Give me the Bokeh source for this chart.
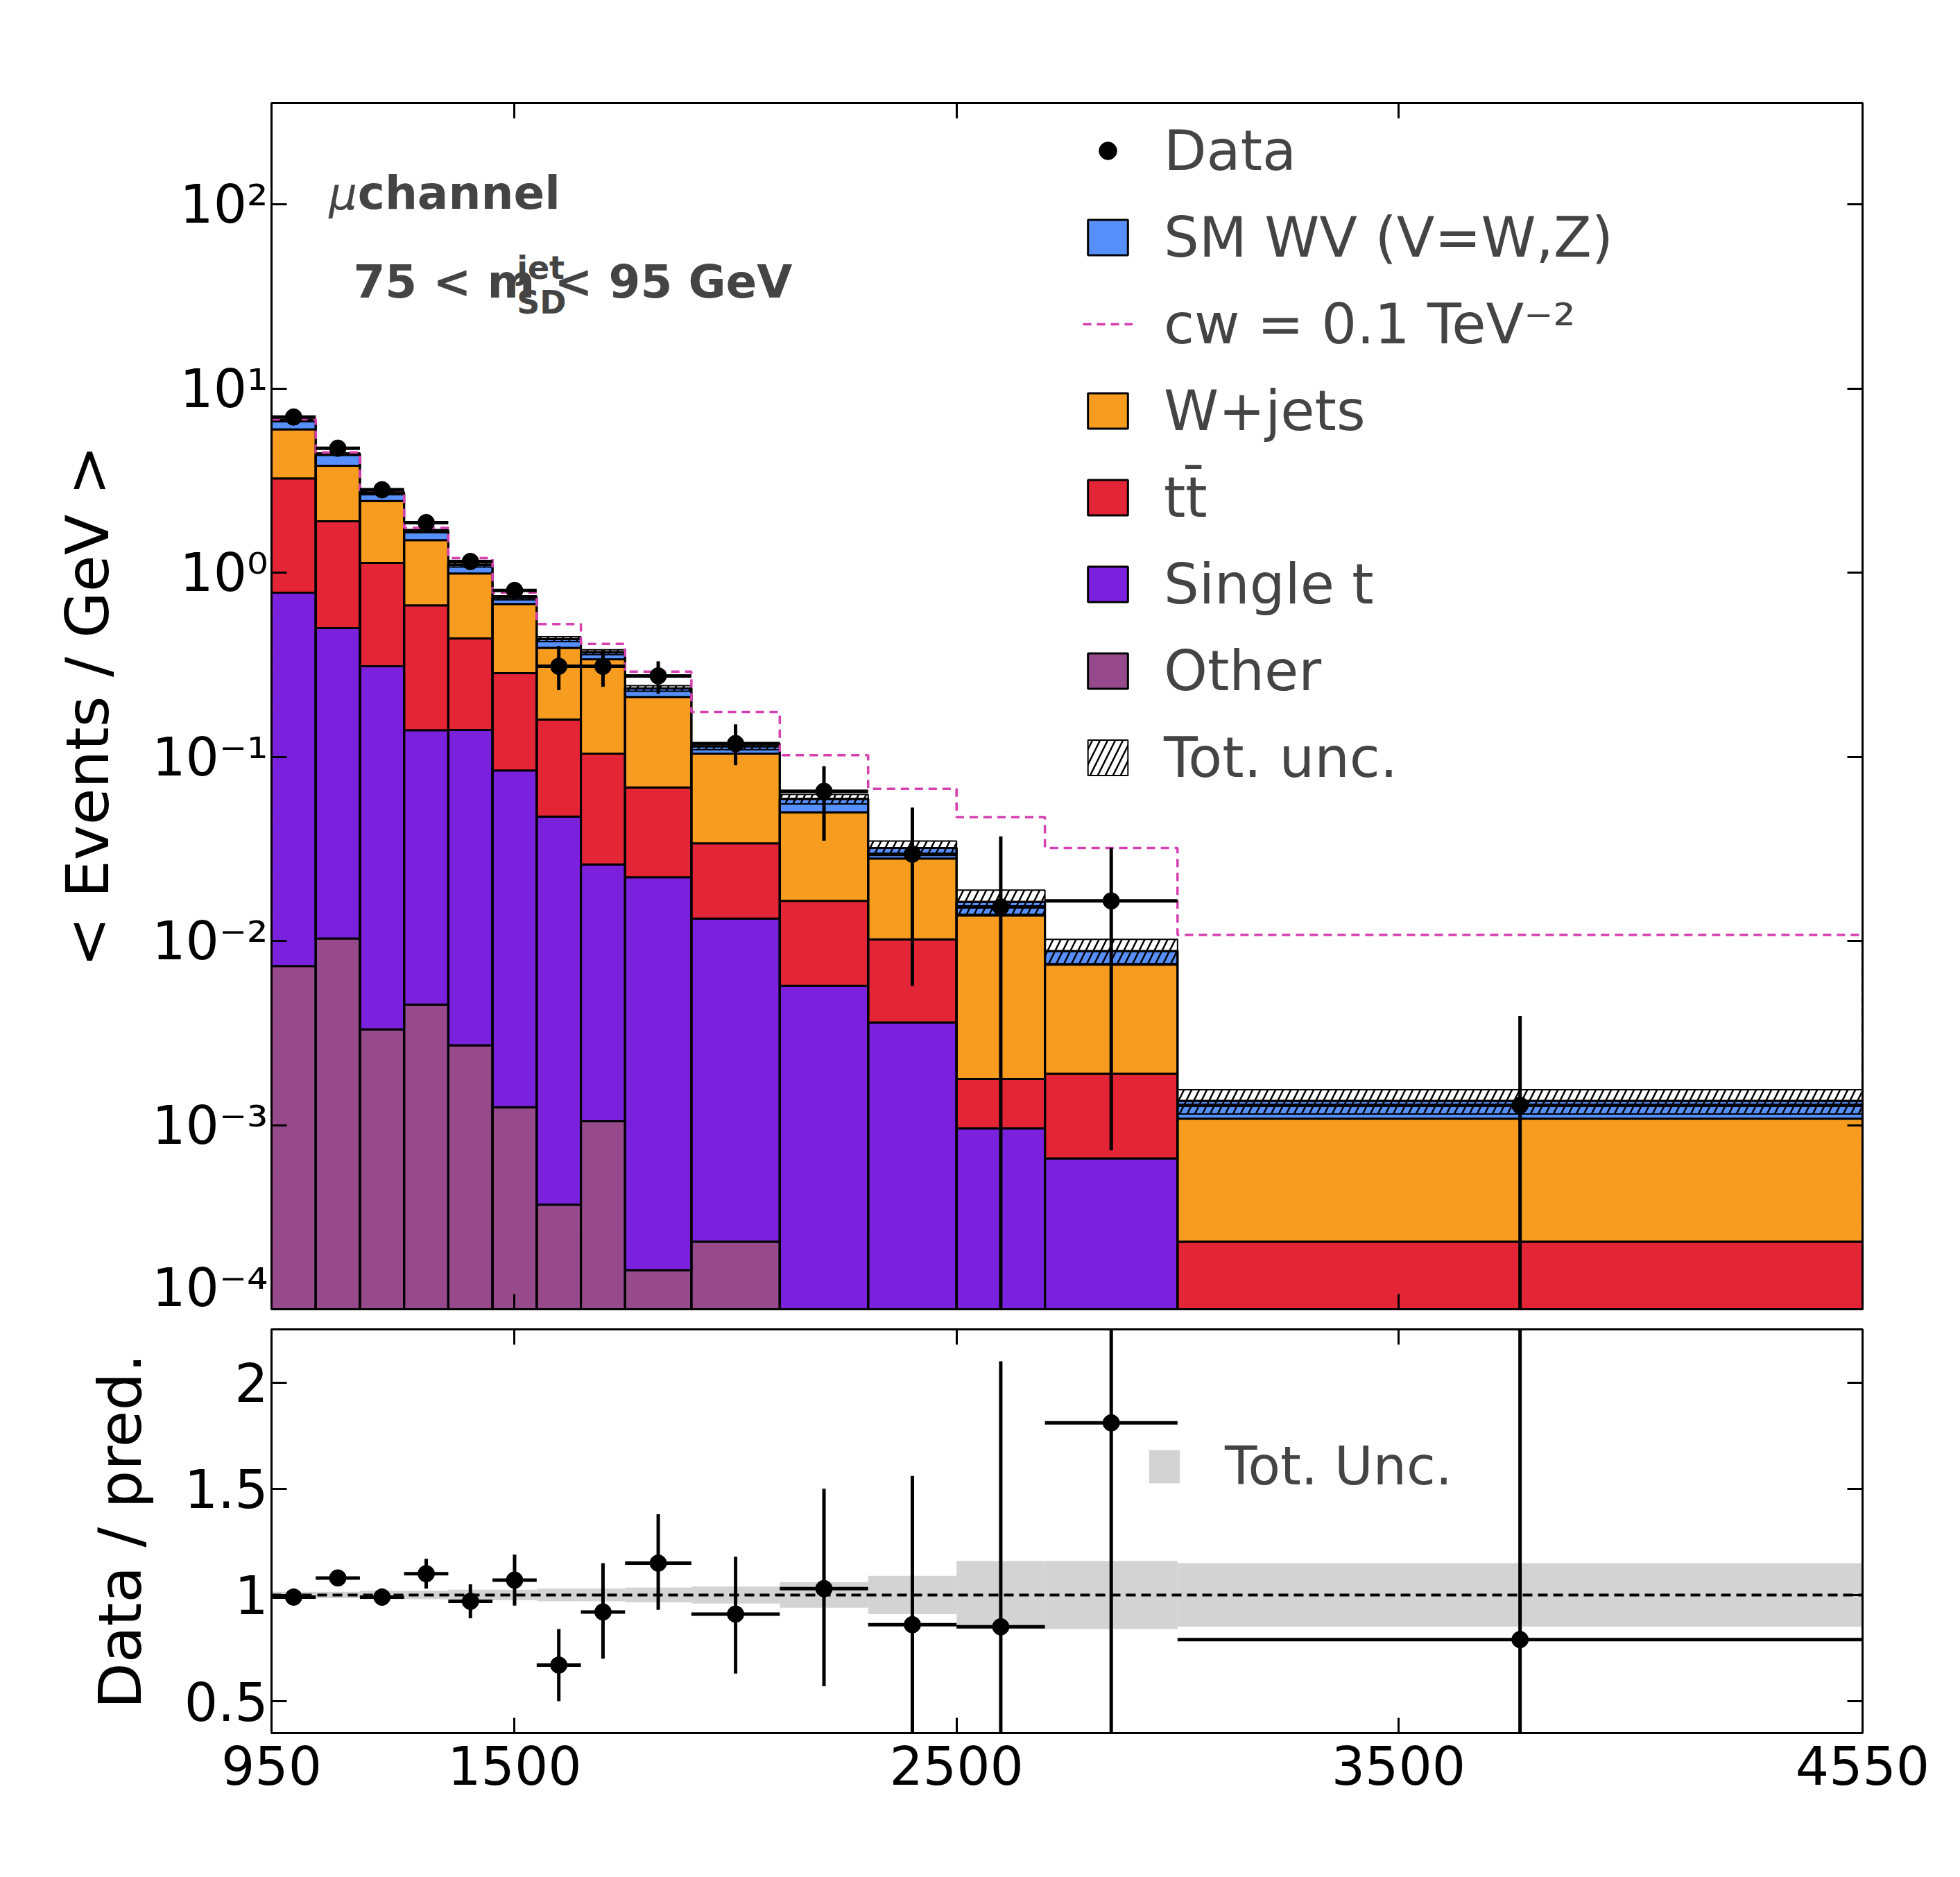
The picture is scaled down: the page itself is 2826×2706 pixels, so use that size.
import numpy as np
from bokeh.plotting import figure
from bokeh.layouts import column
from bokeh.models import (Range1d, LogAxis, LinearAxis, FixedTicker, Legend, LegendItem, Label, Span)
from bokeh.embed import file_html
from bokeh.resources import INLINE

edges = [950, 1050, 1150, 1250, 1350, 1450, 1550, 1650, 1750, 1900, 2100, 2300, 2500, 2700, 3000, 4550]
other = [0.0073, 0.0103, 0.0033, 0.0045, 0.0027, 0.00124, 0.00036, 0.00104, 0.000153, 0.000223, 0, 0, 0, 0, 0]
single_t = [0.77, 0.49, 0.307, 0.135, 0.137, 0.083, 0.047, 0.025, 0.022, 0.013, 0.0057, 0.0036, 0.00095, 0.00065, 0]
ttbar = [2.47, 1.4, 0.82, 0.525, 0.30, 0.20, 0.112, 0.078, 0.046, 0.0207, 0.0108, 0.0066, 0.00082, 0.00124, 0.000223]
wjets = [2.75, 1.9, 1.32, 0.835, 0.55, 0.391, 0.231, 0.234, 0.143, 0.070, 0.0335, 0.0178, 0.0121, 0.0056, 0.00085]
sm_wv = [0.7, 0.6, 0.25, 0.18, 0.11, 0.055, 0.045, 0.032, 0.024, 0.010, 0.009, 0.004, 0.0024, 0.0013, 0.00027]
cw = [6.8, 4.5, 2.8, 1.75, 1.2, 0.78, 0.525, 0.41, 0.29, 0.175, 0.102, 0.067, 0.047, 0.032, 0.0108]
unc_rel = [0.015, 0.015, 0.02, 0.02, 0.025, 0.025, 0.03, 0.03, 0.035, 0.04, 0.06, 0.09, 0.16, 0.16, 0.15]
data = [7.0, 4.74, 2.82, 1.87, 1.15, 0.80, 0.31, 0.31, 0.275, 0.118, 0.065, 0.0296, 0.0153, 0.0165, 0.00128]
data_lo = [6.8, 4.55, 2.68, 1.75, 1.06, 0.73, 0.23, 0.24, 0.22, 0.09, 0.035, 0.0057, 1e-5, 0.00073, 1e-5]
data_hi = [7.2, 4.93, 2.96, 1.99, 1.24, 0.87, 0.40, 0.38, 0.33, 0.15, 0.089, 0.053, 0.037, 0.032, 0.0039]
ratio = [0.99, 1.08, 0.99, 1.10, 0.97, 1.07, 0.67, 0.92, 1.15, 0.91, 1.03, 0.86, 0.85, 1.81, 0.79]
ratio_lo = [0.97, 1.05, 0.95, 1.03, 0.89, 0.95, 0.50, 0.70, 0.93, 0.63, 0.57, 0.30, 0.0, 0.35, 0.0]
ratio_hi = [1.01, 1.11, 1.03, 1.17, 1.05, 1.19, 0.84, 1.15, 1.38, 1.18, 1.50, 1.56, 2.10, 3.0, 3.0]
log_ticks = [1e-4, 1e-3, 1e-2, 1e-1, 1, 10, 100]
log_labels = ["10⁻⁴", "10⁻³", "10⁻²", "10⁻¹", "10⁰", "10¹", "10²"]
x_ticks = [950, 1500, 2500, 3500, 4550]

FONT = "DejaVu Sans"
L = np.array(edges[:-1], float); R = np.array(edges[1:], float)
C = (L + R) / 2
cols = {"Other": "#964a8b", "Single t": "#7a21dd", "tt̄": "#e42536", "W+jets": "#f89c20", "SM WV (V=W,Z)": "#5790fc"}

def style_axis(ax, labels=True, size="76px"):
    ax.major_tick_in = 22; ax.major_tick_out = 0
    ax.minor_tick_in = 0; ax.minor_tick_out = 0
    ax.minor_tick_line_color = None
    ax.axis_line_width = 3; ax.major_tick_line_width = 3
    ax.major_label_text_font = FONT; ax.major_label_text_font_size = size
    ax.major_label_text_color = "black"; ax.axis_label_text_color = "black"
    ax.axis_label_text_font = FONT; ax.axis_label_text_font_style = "normal"
    if not labels:
        ax.major_label_text_font_size = "10px"
        ax.major_label_text_alpha = 0

p = figure(width=2810, height=1900, y_axis_type="log", x_range=Range1d(950, 4550),
           y_range=Range1d(1e-4, 355), output_backend="svg", toolbar_location=None,
           min_border_left=391, min_border_right=125, min_border_top=148, min_border_bottom=13)
p.xaxis.visible = False
p.grid.visible = False
p.outline_line_color = "black"; p.outline_line_width = 3
p.yaxis.ticker = FixedTicker(ticks=log_ticks)
p.yaxis.major_label_overrides = {t: s for t, s in zip(log_ticks, log_labels)}
p.yaxis.axis_label = "< Events / GeV >"
p.yaxis.axis_label_text_font_size = "86px"
style_axis(p.yaxis[0])
p.yaxis.axis_label_standoff = 40
ra = LogAxis(ticker=FixedTicker(ticks=log_ticks)); style_axis(ra, False); p.add_layout(ra, "right")
ta = LinearAxis(ticker=FixedTicker(ticks=x_ticks)); style_axis(ta, False); p.add_layout(ta, "above")
ba = LinearAxis(ticker=FixedTicker(ticks=x_ticks)); style_axis(ba, False); p.add_layout(ba, "below")

bottom = np.full(len(L), 1e-5)
rend = {}
for name, vals in [("Other", other), ("Single t", single_t), ("tt̄", ttbar), ("W+jets", wjets), ("SM WV (V=W,Z)", sm_wv)]:
    top = bottom + np.array(vals)
    rend[name] = p.quad(left=L, right=R, bottom=bottom, top=top, fill_color=cols[name],
                        line_color="black", line_width=3)
    bottom = top
tot = bottom
rel = np.array(unc_rel)
unc = p.quad(left=L, right=R, bottom=tot * (1 - rel), top=tot * (1 + rel), fill_alpha=0,
             line_color="black", line_width=2, hatch_pattern="/", hatch_color="black", hatch_weight=2.5, hatch_scale=22)
p.quad(left=L, right=R, bottom=1e-5, top=tot, fill_alpha=0, line_color="black", line_width=3)
cw_r = p.step(x=list(edges), y=cw + [cw[-1]], mode="after", line_color="#d63fb0", line_dash="12 8", line_width=3.5)
p.segment(x0=[950], y0=[1e-4], x1=[950], y1=[cw[0]], line_color="#d63fb0", line_dash="12 8", line_width=3.5)
p.segment(x0=[4550], y0=[1e-4], x1=[4550], y1=[cw[-1]], line_color="#d63fb0", line_dash="12 8", line_width=3.5)
p.segment(x0=C, y0=data_lo, x1=C, y1=data_hi, line_color="black", line_width=5)
p.segment(x0=L, y0=data, x1=R, y1=data, line_color="black", line_width=5)
d_pt = p.scatter(x=C, y=data, size=24, color="black")

leg = Legend(items=[
    LegendItem(label="Data", renderers=[d_pt]),
    LegendItem(label="SM WV (V=W,Z)", renderers=[rend["SM WV (V=W,Z)"]]),
    LegendItem(label="cᴡ = 0.1 TeV⁻²", renderers=[cw_r]),
    LegendItem(label="W+jets", renderers=[rend["W+jets"]]),
    LegendItem(label="tt̄", renderers=[rend["tt̄"]]),
    LegendItem(label="Single t", renderers=[rend["Single t"]]),
    LegendItem(label="Other", renderers=[rend["Other"]]),
    LegendItem(label="Tot. unc.", renderers=[unc]),
], location=(1160, 735), background_fill_alpha=0, border_line_alpha=0,
   label_text_font=FONT, label_text_font_size="80px", glyph_width=72, glyph_height=64,
   label_height=100, spacing=25, label_standoff=45)
p.add_layout(leg)

p.add_layout(Label(x=950, y=355, y_offset=12, text="CMS", text_font=FONT, text_font_style="bold", text_font_size="105px"))
p.add_layout(Label(x=4550, y=355, y_offset=16, text="138 fb⁻¹ (13 TeV)", text_align="right", text_font=FONT, text_font_size="76px"))
p.add_layout(Label(x=1080, y=100, y_offset=-22, text="μ", text_font=FONT, text_font_style="italic", text_font_size="64px"))
p.add_layout(Label(x=1145, y=100, y_offset=-22, text="channel", text_font=FONT, text_font_style="bold", text_font_size="66px"))
p.add_layout(Label(x=1135, y=100, y_offset=-150, text="75 < m", text_font=FONT, text_font_style="bold", text_font_size="66px"))
p.add_layout(Label(x=1505, y=100, y_offset=-118, text="jet", text_font=FONT, text_font_style="bold", text_font_size="46px"))
p.add_layout(Label(x=1505, y=100, y_offset=-168, text="SD", text_font=FONT, text_font_style="bold", text_font_size="46px"))
p.add_layout(Label(x=1590, y=100, y_offset=-150, text="< 95 GeV", text_font=FONT, text_font_style="bold", text_font_size="66px"))

q = figure(width=2810, height=780, x_range=p.x_range, y_range=Range1d(0.35, 2.25),
           output_backend="svg", toolbar_location=None,
           min_border_left=391, min_border_right=125, min_border_top=16, min_border_bottom=182)
q.grid.visible = False
q.outline_line_color = "black"; q.outline_line_width = 3
q.xaxis.ticker = FixedTicker(ticks=x_ticks)
q.yaxis.ticker = FixedTicker(ticks=[0.5, 1.0, 1.5, 2.0])
q.yaxis.axis_label = "Data / pred."
q.yaxis.axis_label_text_font_size = "86px"
style_axis(q.xaxis[0]); style_axis(q.yaxis[0])
q.yaxis.axis_label_standoff = 40
q.xaxis.major_label_standoff = 18
q.add_layout(LinearAxis(ticker=FixedTicker(ticks=[0.5, 1.0, 1.5, 2.0])), "right"); style_axis(q.right[0], False)
q.add_layout(LinearAxis(ticker=FixedTicker(ticks=x_ticks)), "above"); style_axis(q.above[0], False)
band = q.quad(left=L, right=R, bottom=1 - rel, top=1 + rel, fill_color="#d3d3d3", line_color=None)
q.add_layout(Span(location=1.0, dimension="width", line_color="black", line_dash="14 8", line_width=4))
q.segment(x0=C, y0=ratio_lo, x1=C, y1=ratio_hi, line_color="black", line_width=5)
q.segment(x0=L, y0=ratio, x1=R, y1=ratio, line_color="black", line_width=5)
q.scatter(x=C, y=ratio, size=24, color="black")
leg2 = Legend(items=[LegendItem(label="Tot. Unc.", renderers=[band])], location=(1250, 330),
              background_fill_alpha=0, border_line_alpha=0, label_text_font=FONT,
              label_text_font_size="76px", glyph_width=55, glyph_height=60, label_standoff=60)
q.add_layout(leg2)
q.add_layout(Label(x=4550, y=0.35, y_offset=-178, x_offset=-280, text="m", text_align="right", text_font=FONT, text_font_size="86px"))
q.add_layout(Label(x=4550, y=0.35, y_offset=-192, x_offset=-280, text="WV", text_align="left", text_font=FONT, text_font_size="58px"))
q.add_layout(Label(x=4550, y=0.35, y_offset=-178, text="[GeV]", text_align="right", text_font=FONT, text_font_size="86px"))

page = column(p, q, spacing=0)
open("out.html", "w").write(file_html(page, INLINE))
